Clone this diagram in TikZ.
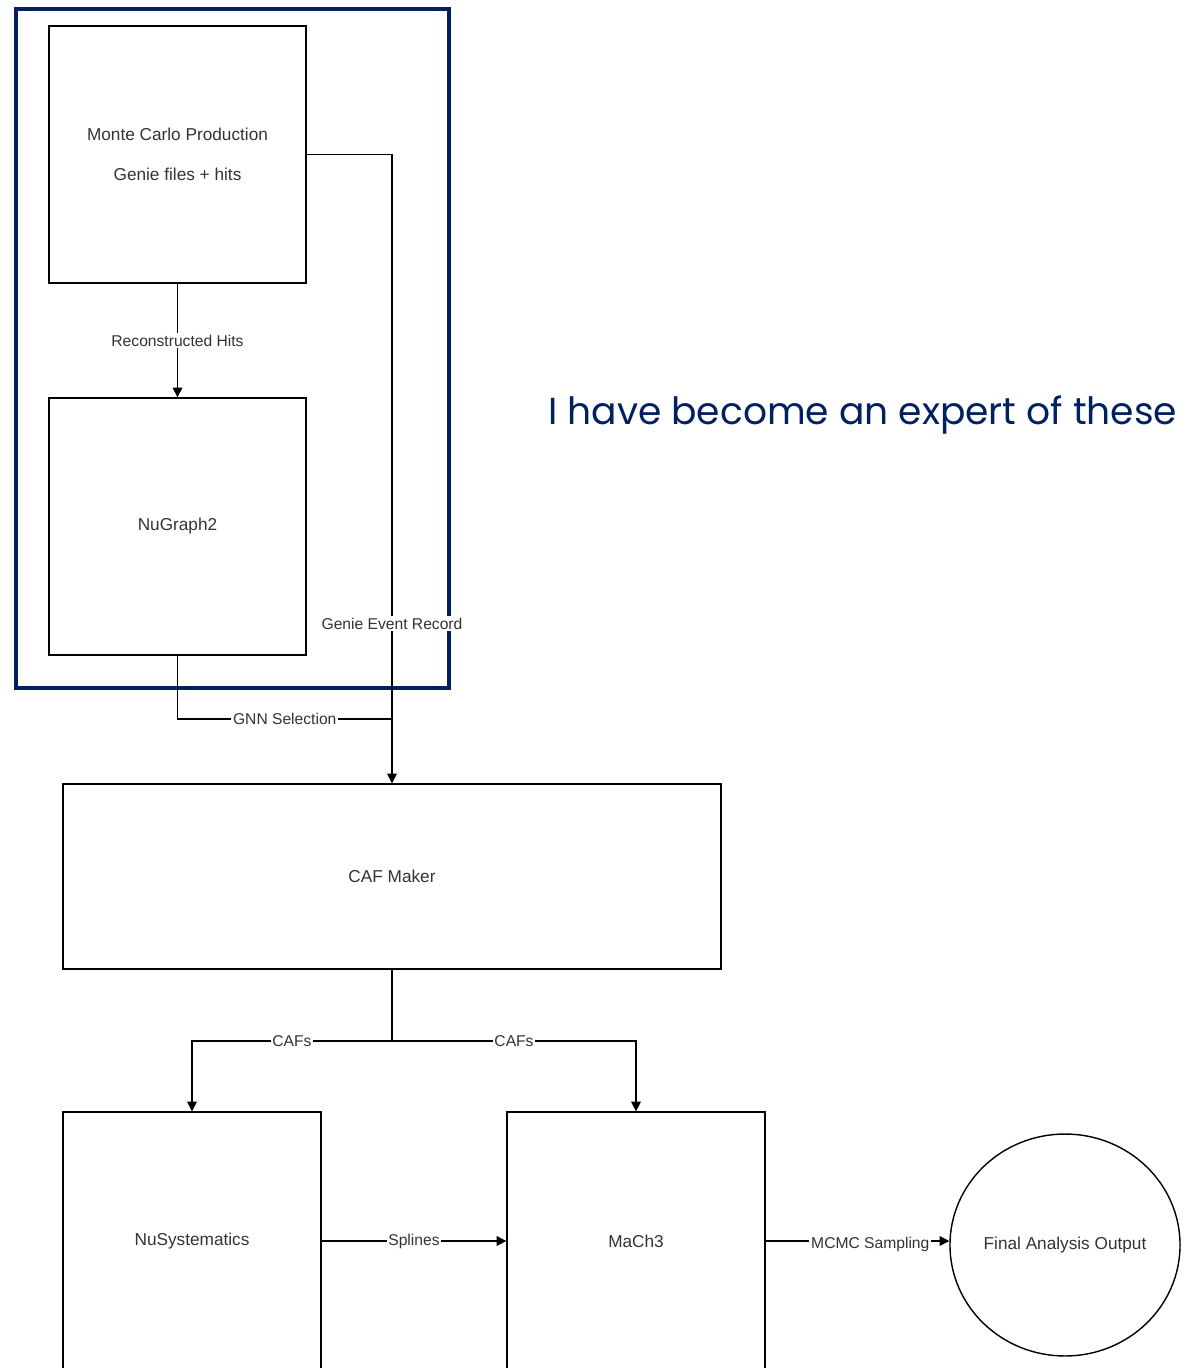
\documentclass[tikz,border=0pt]{standalone}
\usepackage{xcolor}
\usepackage{fontspec}
\setmainfont{Liberation Sans}
\newfontfamily\slidefont{Poppins}
\usetikzlibrary{arrows.meta,shapes.geometric}
\definecolor{navy}{RGB}{0,32,96}
\definecolor{txtgray}{RGB}{51,51,51}

\begin{document}
\begin{tikzpicture}[x=0.02cm, y=-0.02cm,
      box/.style={rectangle, draw, line width=0.8pt, align=center, inner sep=0pt,
        text=txtgray, font=\fontsize{9.8}{11}\selectfont},
      lbl/.style={fill=white, inner sep=1pt, text=txtgray, font=\fontsize{8.9}{10}\selectfont},
      flow/.style={line width=0.7pt, -{Triangle[length=5.5pt,width=5.5pt]}},
      link/.style={line width=0.7pt}
      ]
      \useasboundingbox (0,0) rectangle (1192,1368);
      \clip (0,0) rectangle (1192,1368);

      % group frame
      \node[draw=navy, line width=1.8pt, minimum width=8.66cm, minimum height=13.58cm] (group) at (232.5,348.5) {};

      \node[box, minimum width=5.14cm, minimum height=5.14cm] (mc) at (177.5,154.5)
        {Monte Carlo Production\\[12pt]Genie files + hits};
      \node[box, minimum width=5.14cm, minimum height=5.14cm] (ng) at (177.5,526.5) {NuGraph2};
      \node[box, minimum width=13.16cm, minimum height=3.7cm] (caf) at (392,876.5) {CAF Maker};
      \node[box, minimum width=5.16cm, minimum height=5.16cm] (nusys) at (192,1241) {NuSystematics};
      \node[box, minimum width=5.16cm, minimum height=5.16cm] (mach) at (636,1241) {MaCh3};
      \node[box, ellipse, minimum width=4.6cm, minimum height=4.44cm] (fin) at (1065,1245) {Final Analysis Output};

      \node[anchor=west, inner sep=0pt, text=navy, font=\slidefont\fontsize{21.4}{25}\selectfont] (remark) at (548,415)
        {I have become an expert of these};

      \coordinate (join) at (392,719);
      \coordinate (split) at (392,1041);

      \draw[flow] (mc) -- node[lbl] {Reconstructed Hits} (ng);
      \draw[flow] (mc.east) -| node[lbl, pos=0.873] {Genie Event Record} (caf.north);
      \draw[link] (ng.south) |- node[lbl, pos=0.75] {GNN Selection} (join);
      \draw[link] (caf.south) -- (split);
      \draw[flow] (split) -| node[lbl, pos=0.25] {CAFs} (nusys.north);
      \draw[flow] (split) -| node[lbl, pos=0.25] {CAFs} (mach.north);
      \draw[flow] (nusys) -- node[lbl] {Splines} (mach);
      \draw[flow] (mach.east) -- node[lbl, pos=0.57, yshift=-2pt] {MCMC Sampling} (mach.east -| fin.west);
    \end{tikzpicture}
\end{document}
